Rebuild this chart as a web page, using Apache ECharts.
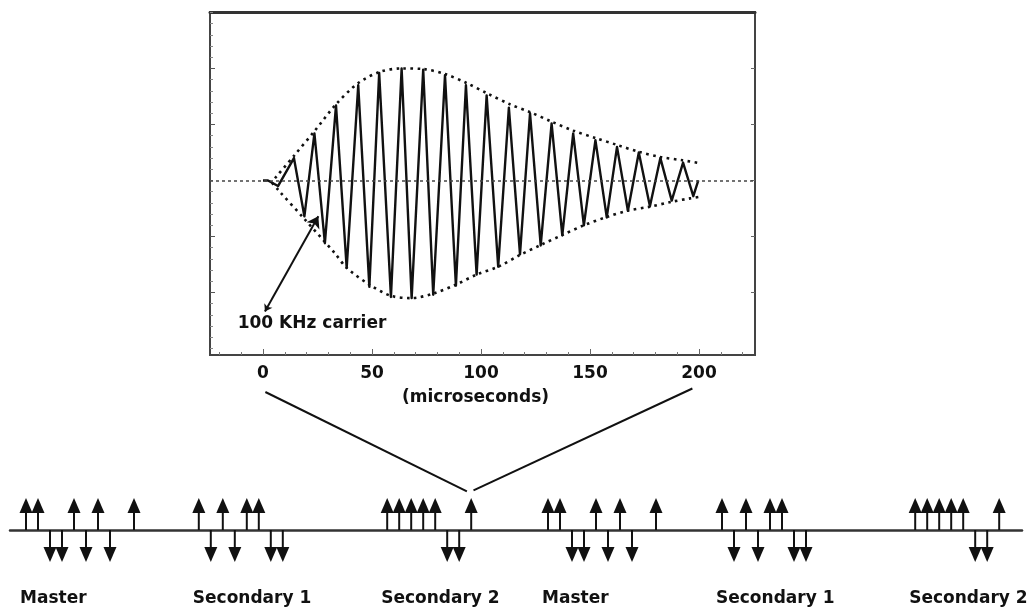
<!DOCTYPE html>
<html>
<head>
<meta charset="utf-8">
<title>Loran-C pulse</title>
<script src="https://cdn.jsdelivr.net/npm/echarts@6/dist/echarts.min.js"></script>
<style>
  html, body { margin: 0; padding: 0; background: #fff; }
  #chart { width: 1030px; height: 607px; }
</style>
</head>
<body>
<div id="chart"></div>
<script>
// 100 kHz carrier: turning points (microseconds / relative amplitude)
const waveT = [0, 2.3, 6.9, 14.2, 19.0, 23.6, 28.4, 33.5, 38.4, 43.7, 48.8, 53.3, 58.7, 63.6, 68.2, 73.5, 78.1, 83.5, 88.5, 93.1, 98.0,
  102.6, 107.9, 112.8, 117.9, 122.5, 127.4, 132.4, 137.3, 142.3, 147.2, 152.5, 157.7, 162.4, 167.4, 172.4, 177.5, 182.3, 187.5, 192.7, 197.4, 199.7];
const waveV = [0, 0.0, -0.05, 0.20, -0.32, 0.42, -0.56, 0.67, -0.78, 0.85, -0.95, 0.96, -1.04, 1.0, -1.05, 0.99, -1.02, 0.94, -0.94, 0.85, -0.84,
  0.76, -0.77, 0.65, -0.66, 0.60, -0.58, 0.51, -0.49, 0.42, -0.40, 0.36, -0.33, 0.30, -0.27, 0.25, -0.23, 0.20, -0.18, 0.16, -0.14, 0.0];

// dotted envelope
const envUpT = [5.5, 14.2, 23.6, 33.5, 43.7, 53.7, 63.6, 73.5, 83.5, 93.4, 102.6, 113.3, 122.5, 132.4, 142.3, 152.8, 162.5, 172.2, 182.1, 192.5, 200.5];
const envUpV = [0.02, 0.22, 0.44, 0.68, 0.87, 0.97, 1.0, 0.995, 0.95, 0.87, 0.78, 0.68, 0.61, 0.525, 0.445, 0.377, 0.317, 0.257, 0.21, 0.18, 0.154];
const envLowT = [4.1, 7.0, 19.3, 33.0, 38.4, 48.8, 58.7, 68.2, 78.1, 88.5, 98.0, 107.9, 117.9, 127.4, 137.3, 147.2, 157.7, 167.2, 177.5, 187.5, 195.9, 200.5];
const envLowV = [-0.02, -0.085, -0.35, -0.65, -0.78, -0.93, -1.03, -1.05, -1.01, -0.93, -0.84, -0.77, -0.665, -0.576, -0.487, -0.40, -0.326, -0.27, -0.234, -0.19, -0.16, -0.145];

const timeLabels = [0, 50, 100, 150, 200];

// pulse train below (ms, first master pulse = 0)
const groupNames = ['Master', 'Secondary 1', 'Secondary 2', 'Master', 'Secondary 1', 'Secondary 2'];
const groupStart = [0, 14.4, 30.1, 43.5, 58.0, 74.1];
const masterSlots = [0, 1, 2, 3, 4, 5, 6, 7, 9];
const secondarySlots = [0, 1, 2, 3, 4, 5, 6, 7];
const masterSigns = [1, 1, -1, -1, 1, -1, 1, -1, 1];
const sec1Signs = [1, -1, 1, -1, 1, 1, -1, -1];
const sec2Signs = [1, 1, 1, 1, 1, -1, -1, 1];

const FONT = 'DejaVu Sans';
const INK = '#111';

function zip(a, b) {
  return a.map((v, i) => [v, b[i]]);
}

// build pulse list from the groups
const groupSigns = [masterSigns, sec1Signs, sec2Signs, masterSigns, sec1Signs, sec2Signs];
const pulses = [];
groupStart.forEach((g, i) => {
  const slots = groupNames[i] === 'Master' ? masterSlots : secondarySlots;
  slots.forEach((s, k) => pulses.push([g + s, groupSigns[i][k]]));
});

const minorX = [];
for (let v = -20; v <= 220; v += 10) minorX.push(v);
const minorY = [];
for (let v = -15; v <= 15; v++) minorY.push(v / 10);

const xMin = -24.3, xMax = 225.7;

function upperX(extra) {
  return Object.assign({
    type: 'value', gridIndex: 0, min: xMin, max: xMax, position: 'bottom',
    axisLine: { show: false, onZero: false },
    splitLine: { show: false },
    axisLabel: { show: false },
    axisTick: { show: false }
  }, extra);
}
function upperY(extra) {
  return Object.assign({
    type: 'value', gridIndex: 0, min: -1.558, max: 1.504, position: 'left',
    axisLine: { show: false, onZero: false },
    splitLine: { show: false },
    axisLabel: { show: false },
    axisTick: { show: false }
  }, extra);
}

function renderArrow(params, api) {
  const t = api.value(0), s = api.value(1);
  const base = api.coord([t, 0]);
  const tip = api.coord([t, s]);
  const head = 15, half = 6.5;
  const neck = tip[1] + (s > 0 ? head : -head);
  return {
    type: 'group',
    children: [
      { type: 'line', shape: { x1: base[0], y1: base[1], x2: base[0], y2: neck }, style: { stroke: INK, lineWidth: 2 } },
      { type: 'polygon', shape: { points: [[tip[0], tip[1]], [tip[0] - half, neck], [tip[0] + half, neck]] }, style: { fill: INK } }
    ]
  };
}

const chart = echarts.init(document.getElementById('chart'));

chart.setOption({
  animation: false,
  backgroundColor: '#fff',
  grid: [
    { left: 210, top: 12, width: 545, height: 343, show: true, borderColor: '#444', borderWidth: 2, backgroundColor: 'transparent' },
    { left: 10, top: 498, width: 1012, height: 64 }
  ],
  xAxis: [
    upperX({ axisTick: { show: true, inside: true, length: 3, customValues: minorX, lineStyle: { color: '#777' } } }),
    upperX({
      axisTick: { show: true, inside: true, length: 6, customValues: timeLabels, lineStyle: { color: '#666' } },
      axisLabel: { show: true, customValues: timeLabels, margin: 10, color: INK, fontFamily: FONT, fontWeight: 'bold', fontSize: 17 }
    }),
    upperX({ position: 'top', axisLine: { show: true, onZero: false, lineStyle: { color: '#333', width: 3 } } }),
    {
      type: 'value', gridIndex: 1, min: -1.333, max: 83,
      axisLine: { show: true, onZero: true, lineStyle: { color: '#333', width: 2.5 } },
      axisTick: { show: false }, axisLabel: { show: false }, splitLine: { show: false }
    }
  ],
  yAxis: [
    upperY({ axisTick: { show: true, inside: true, length: 3, customValues: minorY, lineStyle: { color: '#888' } } }),
    upperY({ axisTick: { show: true, inside: true, length: 5, customValues: [-1, -0.5, 0.5, 1], lineStyle: { color: '#555' } } }),
    upperY({ position: 'right', axisTick: { show: true, inside: true, length: 4, customValues: [-1, -0.5, 0, 0.5, 1], lineStyle: { color: '#666' } } }),
    {
      type: 'value', gridIndex: 1, min: -1, max: 1,
      axisLine: { show: false }, axisTick: { show: false }, axisLabel: { show: false }, splitLine: { show: false }
    }
  ],
  series: [
    {
      type: 'line', xAxisIndex: 0, yAxisIndex: 0, data: zip(envUpT, envUpV),
      showSymbol: false, smooth: 0.3, z: 2,
      lineStyle: { color: INK, width: 2.6, type: [2.6, 4.4] }
    },
    {
      type: 'line', xAxisIndex: 0, yAxisIndex: 0, data: zip(envLowT, envLowV),
      showSymbol: false, smooth: 0.3, z: 2,
      lineStyle: { color: INK, width: 2.6, type: [2.6, 4.4] }
    },
    {
      type: 'line', xAxisIndex: 0, yAxisIndex: 0, data: zip(waveT, waveV),
      showSymbol: false, z: 3,
      lineStyle: { color: INK, width: 2.4, join: 'round' },
      markLine: {
        silent: true, symbol: 'none', label: { show: false },
        data: [
          { yAxis: 0, lineStyle: { color: '#444', width: 1.5, type: [3, 3] } },
          [
            { coord: [0.9, -1.17], symbol: 'arrow', symbolSize: 7, lineStyle: { color: INK, width: 2, type: 'solid' } },
            { coord: [25.4, -0.32], symbol: 'arrow', symbolSize: 11 }
          ]
        ]
      }
    },
    {
      type: 'custom', xAxisIndex: 3, yAxisIndex: 3, data: pulses,
      encode: { x: 0, y: 1 }, renderItem: renderArrow, z: 3
    }
  ]
});

// texts and the two connector lines, placed through the axes
const textStyle = { fill: INK, font: 'bold 17px "' + FONT + '"' };
const x0 = chart.convertToPixel({ xAxisIndex: 1 }, 0);
const x200 = chart.convertToPixel({ xAxisIndex: 1 }, 200);
const carrier = chart.convertToPixel({ gridIndex: 0 }, [22.5, -1.28]);
// last pulse of the first "Secondary 2" group is the one that is blown up
const tip = chart.convertToPixel({ gridIndex: 1 }, [groupStart[2] + secondarySlots[7], 1]);

const graphics = [
  { type: 'text', x: carrier[0], y: carrier[1], style: Object.assign({ text: '100 KHz carrier', align: 'center', verticalAlign: 'middle' }, textStyle) },
  { type: 'text', x: chart.convertToPixel({ xAxisIndex: 1 }, 97.5), y: 398, style: Object.assign({ text: '(microseconds)', align: 'center', verticalAlign: 'middle' }, textStyle) },
  { type: 'line', shape: { x1: x0 + 2.4, y1: 392, x2: tip[0] - 4.3, y2: tip[1] - 6.6 }, style: { stroke: INK, lineWidth: 2 } },
  { type: 'line', shape: { x1: x200 - 6.6, y1: 388.5, x2: tip[0] + 2.3, y2: tip[1] - 7.6 }, style: { stroke: INK, lineWidth: 2 } }
];
groupNames.forEach((name, i) => {
  graphics.push({
    type: 'text',
    x: chart.convertToPixel({ xAxisIndex: 3 }, groupStart[i] - 0.5),
    y: 599,
    style: Object.assign({ text: name, align: 'left', verticalAlign: 'middle' }, textStyle)
  });
});
chart.setOption({ graphic: graphics });
</script>
</body>
</html>
